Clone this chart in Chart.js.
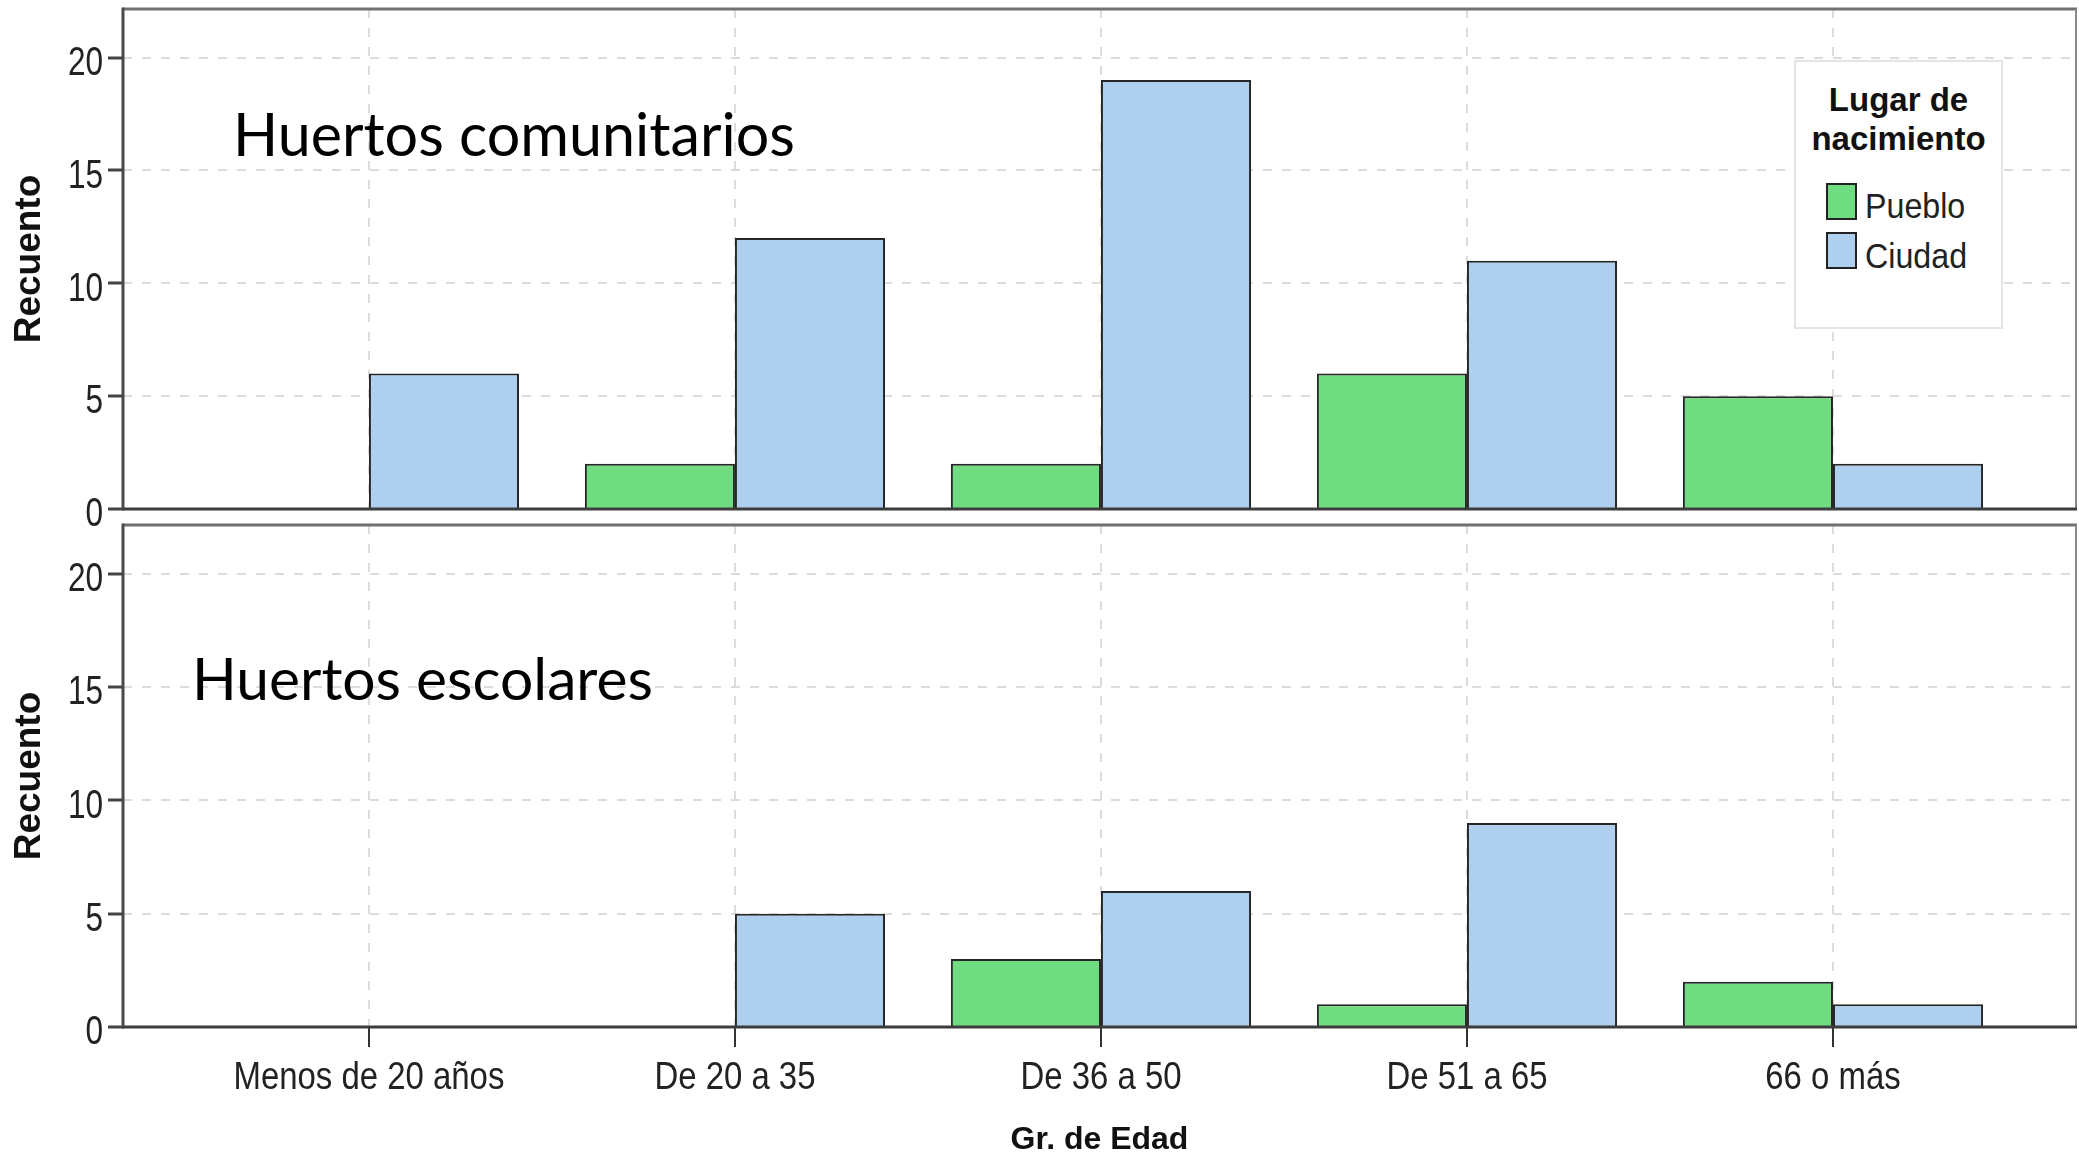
<!DOCTYPE html>
<html>
<head>
<meta charset="utf-8">
<script src="https://cdn.jsdelivr.net/npm/chart.js@4.4.1/dist/chart.umd.min.js"></script>
<style>
  html, body { margin:0; padding:0; background:#fff; width:2079px; height:1159px; overflow:hidden; position:relative; }
  canvas { position:absolute; left:0; }
  #c1 { top:0; }
  #c2 { top:515px; }
  .ann { position:absolute; font-family:Lato, 'Open Sans', sans-serif; color:#000; white-space:nowrap; line-height:1; }
  #legend { position:absolute; left:1794px; top:60px; width:209px; height:269px; box-sizing:border-box; border:2px solid #e4e4e4; background:#fff; }
  #legend .ttl { position:absolute; left:0; width:100%; top:18px; text-align:center; font:bold 33px 'Liberation Sans', Arial, sans-serif; line-height:39px; color:#111; }
  #legend .sw { position:absolute; left:30px; width:31px; height:37px; box-sizing:border-box; border:2px solid #222; }
  #legend .lb { position:absolute; left:69px; font:35px 'Liberation Sans', Arial, sans-serif; line-height:1; color:#222; transform:scaleX(0.92); transform-origin:0 0; white-space:nowrap; }
</style>
</head>
<body>
<canvas id="c1" width="2079" height="530"></canvas>
<canvas id="c2" width="2079" height="644"></canvas>
<div id="t1" class="ann">Huertos comunitarios</div>
<div id="t2" class="ann">Huertos escolares</div>
<div id="legend"></div>
<script>
// ---------- data ----------
const categories = ['Menos de 20 años', 'De 20 a 35', 'De 36 a 50', 'De 51 a 65', '66 o más'];
const seriesNames = ['Pueblo', 'Ciudad'];
const comunitariosPueblo = [0, 2, 2, 6, 5];
const comunitariosCiudad = [6, 12, 19, 11, 2];
const escolaresPueblo = [0, 0, 3, 1, 2];
const escolaresCiudad = [0, 5, 6, 9, 1];
const yTicks = [0, 5, 10, 15, 20];
const panelTitles = ['Huertos comunitarios', 'Huertos escolares'];
const legendTitle = ['Lugar de', 'nacimiento'];
const yTitle = 'Recuento';
const xTitle = 'Gr. de Edad';

// ---------- styles ----------
const COLORS = ['#70dc82', '#aecfed'];
const SANS = "'Liberation Sans', Arial, sans-serif";
const GRID = '#dcdcdc';
const X_MIN = -0.672, X_MAX = 4.664, Y_MAX = 22.15;
const CONDENSE = { x: 0.855, y: 0.77 };   // horizontal squeeze of tick label glyphs

const framePlugin = {
  id: 'frame',
  afterDatasetsDraw(chart) {
    const { ctx, chartArea: a } = chart;
    const line = (x1, y1, x2, y2, c, w) => {
      ctx.beginPath(); ctx.strokeStyle = c; ctx.lineWidth = w;
      ctx.moveTo(x1, y1); ctx.lineTo(x2, y2); ctx.stroke();
    };
    ctx.save();
    ctx.setLineDash([]);
    line(a.left, a.top, a.right + 1, a.top, '#707070', 3);
    line(a.right, a.top, a.right, a.bottom, '#8a8a8a', 2);
    line(a.left, a.top - 1.5, a.left, a.bottom + 1.5, '#4a4a4a', 3);
    line(a.left, a.bottom, a.right + 1, a.bottom, '#3c3c3c', 3);
    ctx.restore();
  }
};

// narrow (condensed) tick labels, like the SPSS output
const condensePlugin = {
  id: 'condense',
  beforeDraw(chart) {
    Object.values(chart.scales).forEach(scale => {
      if (scale._condensed) return;
      const factor = CONDENSE[scale.axis] || 1;
      const orig = scale.drawLabels;
      scale.drawLabels = function (area) {
        const ctx = this.ctx;
        const f = CanvasRenderingContext2D.prototype.fillText;
        ctx.fillText = function (t, x, y) {
          this.save(); this.translate(x, y); this.scale(factor, 1);
          f.call(this, t, 0, 0);
          this.restore();
        };
        try { orig.call(this, area); } finally { delete ctx.fillText; }
      };
      scale._condensed = true;
    });
  }
};

function makeChart(id, pueblo, ciudad, showX, topPad, xHeight) {
  const series = [pueblo, ciudad];
  return new Chart(document.getElementById(id), {
    type: 'bar',
    data: {
      datasets: series.map((s, k) => ({
        label: seriesNames[k],
        data: s.map((v, i) => ({ x: i, y: v })),
        backgroundColor: COLORS[k],
        borderColor: '#262626',
        borderWidth: 2,
        borderSkipped: 'start',
        categoryPercentage: 0.82,
        barPercentage: 1.0
      }))
    },
    plugins: [framePlugin, condensePlugin],
    options: {
      responsive: false,
      devicePixelRatio: 1,
      animation: false,
      events: [],
      layout: { padding: { top: topPad, right: 3, left: 0, bottom: 0 } },
      plugins: { legend: { display: false }, tooltip: { enabled: false } },
      scales: {
        x: {
          type: 'linear', min: X_MIN, max: X_MAX, offset: false,
          afterBuildTicks: s => { s.ticks = categories.map((_, i) => ({ value: i })); },
          afterFit: s => { s.height = xHeight; s.paddingLeft = 0; s.paddingRight = 0; },
          grid: { display: true, offset: false, color: GRID, lineWidth: 2, drawTicks: showX,
                  tickLength: 20, tickColor: '#333', tickWidth: 2, tickBorderDash: [] },
          border: { display: false, dash: [9, 10] },
          ticks: { display: showX, padding: 8, autoSkip: false, maxRotation: 0, minRotation: 0,
                   color: '#222', font: { family: SANS, size: 38.5 },
                   callback: v => categories[v] },
          title: { display: showX, text: xTitle, color: '#111', padding: 0,
                   font: { family: SANS, weight: 'bold', size: 32 } }
        },
        y: {
          min: 0, max: Y_MAX,
          afterBuildTicks: s => { s.ticks = yTicks.map(v => ({ value: v })); },
          afterFit: s => { s.width = 123; s.paddingTop = 0; s.paddingBottom = 0; },
          grid: { color: GRID, lineWidth: 2, tickLength: 15, tickColor: '#444', tickWidth: 3, tickBorderDash: [] },
          border: { display: false, dash: [9, 10] },
          ticks: { padding: 5, labelOffset: 6, color: '#222', font: { family: SANS, size: 41 } },
          title: { display: true, text: yTitle, color: '#111', padding: { top: 8, bottom: 0 },
                   font: { family: SANS, weight: 'bold', size: 37 } }
        }
      }
    }
  });
}

makeChart('c1', comunitariosPueblo, comunitariosCiudad, false, 9, 21);
makeChart('c2', escolaresPueblo, escolaresCiudad, true, 10, 132);

// ---------- legend (HTML) ----------
const lg = document.getElementById('legend');
const ttl = document.createElement('div');
ttl.className = 'ttl';
ttl.innerHTML = legendTitle.join('<br>');
lg.appendChild(ttl);
seriesNames.forEach((name, k) => {
  const sw = document.createElement('div');
  sw.className = 'sw'; sw.style.top = (121 + 49 * k) + 'px'; sw.style.background = COLORS[k];
  const lb = document.createElement('div');
  lb.className = 'lb'; lb.style.top = (126 + 50 * k) + 'px'; lb.textContent = name;
  lg.appendChild(sw); lg.appendChild(lb);
});

// ---------- panel annotations ----------
function place(el, text, left, baseline, width) {
  el.textContent = text;
  el.style.fontSize = '100px';
  const w = el.getBoundingClientRect().width;
  const F = 100 * width / w;
  el.style.fontSize = F + 'px';
  el.style.left = left + 'px';
  el.style.top = (baseline - 0.887 * F) + 'px';
}
place(document.getElementById('t1'), panelTitles[0], 233, 157, 562);
place(document.getElementById('t2'), panelTitles[1], 192, 701, 461);
</script>
</body>
</html>
